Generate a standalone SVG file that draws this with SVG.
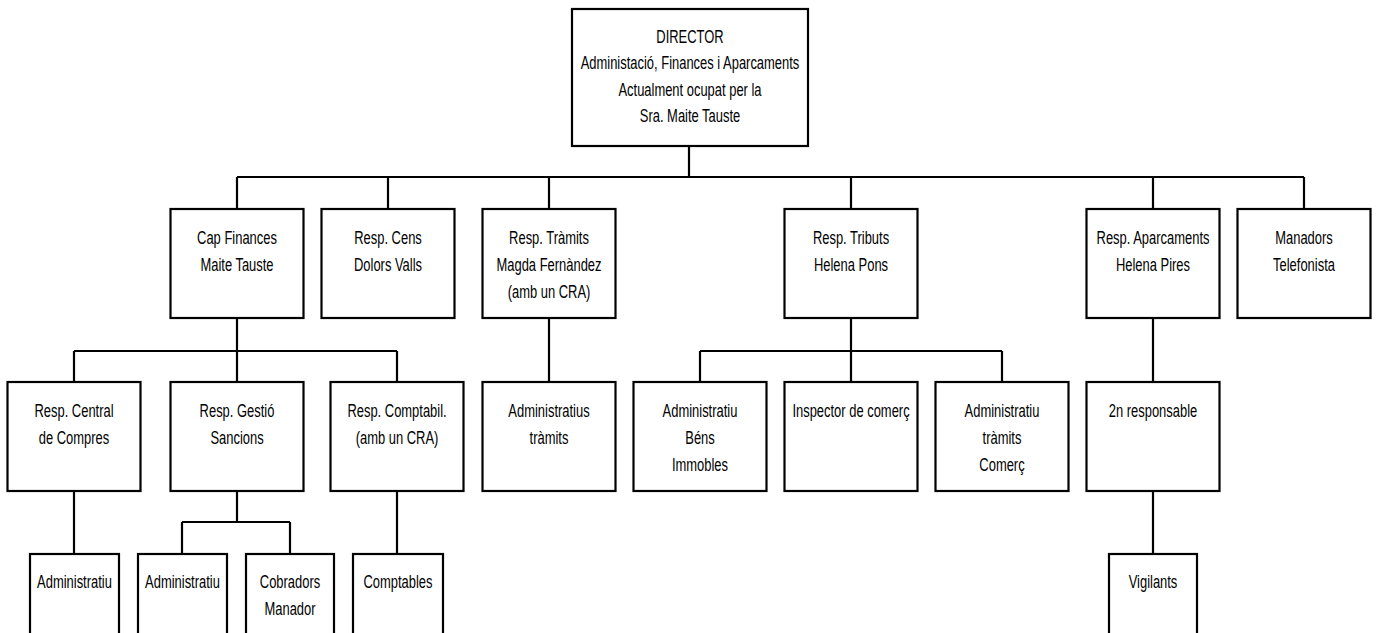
<svg xmlns="http://www.w3.org/2000/svg" width="1377" height="633" viewBox="0 0 1377 633">
<style>
.box{fill:#fff;stroke:#000;stroke-width:2.2}
.c{fill:none;stroke:#000;stroke-width:2.2}
.t{font-family:"Liberation Sans",Arial,sans-serif;font-size:18.5px;text-anchor:middle;fill:#000}
</style>
<rect x="0" y="0" width="1377" height="633" fill="#fff"/>
<g id="connectors">
<path class="c" d="M689,146V177M237,177H1304M237,177V209M388,177V209M549,177V209M851,177V209M1153,177V209M1304,177V209"/>
<path class="c" d="M237,318V351M74,351H397M74,351V382M237,351V382M397,351V382"/>
<path class="c" d="M549,318V382"/>
<path class="c" d="M851,318V351M700,351H1002M700,351V382M851,351V382M1002,351V382"/>
<path class="c" d="M1153,318V382"/>
<path class="c" d="M74,491V554"/>
<path class="c" d="M237,491V522M182,522H290M182,522V554M290,522V554"/>
<path class="c" d="M397,491V554"/>
<path class="c" d="M1153,491V554"/>
</g>
<g id="director">
<rect class="box" x="572" y="9" width="236" height="137"/>
<text class="t" transform="translate(690,43) scale(0.7,1)"><tspan x="0" y="0">DIRECTOR</tspan><tspan x="0" dy="26.5">Administació, Finances i Aparcaments</tspan><tspan x="0" dy="26.5">Actualment ocupat per la</tspan><tspan x="0" dy="26.5">Sra. Maite Tauste</tspan></text>
</g>
<g id="cap-finances">
<rect class="box" x="170.5" y="209" width="133" height="109"/>
<text class="t" transform="translate(237,244) scale(0.7,1)"><tspan x="0" y="0">Cap Finances</tspan><tspan x="0" dy="27">Maite Tauste</tspan></text>
</g>
<g id="resp-cens">
<rect class="box" x="321.5" y="209" width="133" height="109"/>
<text class="t" transform="translate(388,244) scale(0.7,1)"><tspan x="0" y="0">Resp. Cens</tspan><tspan x="0" dy="27">Dolors Valls</tspan></text>
</g>
<g id="resp-tramits">
<rect class="box" x="482.5" y="209" width="133" height="109"/>
<text class="t" transform="translate(549,244) scale(0.7,1)"><tspan x="0" y="0">Resp. Tràmits</tspan><tspan x="0" dy="27">Magda Fernàndez</tspan><tspan x="0" dy="27">(amb un CRA)</tspan></text>
</g>
<g id="resp-tributs">
<rect class="box" x="784.5" y="209" width="133" height="109"/>
<text class="t" transform="translate(851,244) scale(0.7,1)"><tspan x="0" y="0">Resp. Tributs</tspan><tspan x="0" dy="27">Helena Pons</tspan></text>
</g>
<g id="resp-aparcaments">
<rect class="box" x="1086.5" y="209" width="133" height="109"/>
<text class="t" transform="translate(1153,244) scale(0.7,1)"><tspan x="0" y="0">Resp. Aparcaments</tspan><tspan x="0" dy="27">Helena Pires</tspan></text>
</g>
<g id="manadors">
<rect class="box" x="1237.5" y="209" width="133" height="109"/>
<text class="t" transform="translate(1304,244) scale(0.7,1)"><tspan x="0" y="0">Manadors</tspan><tspan x="0" dy="27">Telefonista</tspan></text>
</g>
<g id="resp-central">
<rect class="box" x="7.5" y="382" width="133" height="109"/>
<text class="t" transform="translate(74,417) scale(0.7,1)"><tspan x="0" y="0">Resp. Central</tspan><tspan x="0" dy="27">de Compres</tspan></text>
</g>
<g id="resp-gestio">
<rect class="box" x="170.5" y="382" width="133" height="109"/>
<text class="t" transform="translate(237,417) scale(0.7,1)"><tspan x="0" y="0">Resp. Gestió</tspan><tspan x="0" dy="27">Sancions</tspan></text>
</g>
<g id="resp-comptabil">
<rect class="box" x="330.5" y="382" width="133" height="109"/>
<text class="t" transform="translate(397,417) scale(0.7,1)"><tspan x="0" y="0">Resp. Comptabil.</tspan><tspan x="0" dy="27">(amb un CRA)</tspan></text>
</g>
<g id="administratius-tramits">
<rect class="box" x="482.5" y="382" width="133" height="109"/>
<text class="t" transform="translate(549,417) scale(0.7,1)"><tspan x="0" y="0">Administratius</tspan><tspan x="0" dy="27">tràmits</tspan></text>
</g>
<g id="administratiu-bens">
<rect class="box" x="633.5" y="382" width="133" height="109"/>
<text class="t" transform="translate(700,417) scale(0.7,1)"><tspan x="0" y="0">Administratiu</tspan><tspan x="0" dy="27">Béns</tspan><tspan x="0" dy="27">Immobles</tspan></text>
</g>
<g id="inspector">
<rect class="box" x="784.5" y="382" width="133" height="109"/>
<text class="t" transform="translate(851,417) scale(0.7,1)"><tspan x="0" y="0">Inspector de comerç</tspan></text>
</g>
<g id="administratiu-comerc">
<rect class="box" x="935.5" y="382" width="133" height="109"/>
<text class="t" transform="translate(1002,417) scale(0.7,1)"><tspan x="0" y="0">Administratiu</tspan><tspan x="0" dy="27">tràmits</tspan><tspan x="0" dy="27">Comerç</tspan></text>
</g>
<g id="segon-responsable">
<rect class="box" x="1086.5" y="382" width="133" height="109"/>
<text class="t" transform="translate(1153,417) scale(0.7,1)"><tspan x="0" y="0">2n responsable</tspan></text>
</g>
<g id="administratiu-1">
<rect class="box" x="30" y="554" width="89" height="109"/>
<text class="t" transform="translate(74.5,588) scale(0.7,1)"><tspan x="0" y="0">Administratiu</tspan></text>
</g>
<g id="administratiu-2">
<rect class="box" x="138" y="554" width="89" height="109"/>
<text class="t" transform="translate(182.5,588) scale(0.7,1)"><tspan x="0" y="0">Administratiu</tspan></text>
</g>
<g id="cobradors">
<rect class="box" x="246" y="554" width="88" height="109"/>
<text class="t" transform="translate(290,588) scale(0.7,1)"><tspan x="0" y="0">Cobradors</tspan><tspan x="0" dy="27">Manador</tspan></text>
</g>
<g id="comptables">
<rect class="box" x="353" y="554" width="90" height="109"/>
<text class="t" transform="translate(398,588) scale(0.7,1)"><tspan x="0" y="0">Comptables</tspan></text>
</g>
<g id="vigilants">
<rect class="box" x="1109" y="554" width="88" height="109"/>
<text class="t" transform="translate(1153,588) scale(0.7,1)"><tspan x="0" y="0">Vigilants</tspan></text>
</g>
</svg>
